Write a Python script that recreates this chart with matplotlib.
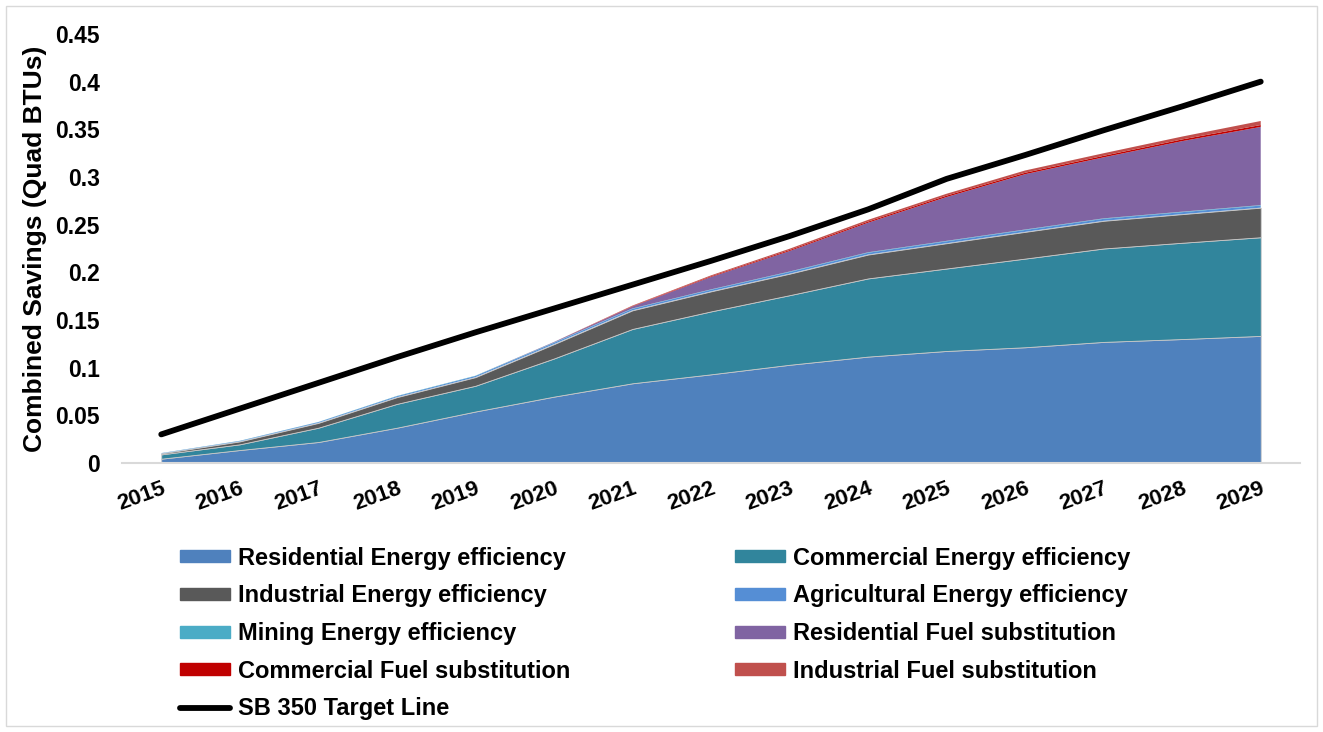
import matplotlib
matplotlib.use("Agg")
import matplotlib.pyplot as plt
from matplotlib.patches import Rectangle
from matplotlib.lines import Line2D
from matplotlib.ticker import FuncFormatter

plt.rcParams['font.family'] = ['Liberation Sans', 'DejaVu Sans']
plt.rcParams['font.weight'] = 'bold'

years = list(range(2015, 2030))

# savings by sector (Quad BTUs), stacked bottom to top
res_ee = [0.0045, 0.0136, 0.022, 0.037, 0.054, 0.0696, 0.0836, 0.093, 0.103, 0.1116, 0.1175, 0.1214, 0.127, 0.130, 0.1333]
com_ee = [0.0045, 0.006, 0.015, 0.025, 0.027, 0.040, 0.057, 0.066, 0.073, 0.082, 0.0865, 0.093, 0.098, 0.101, 0.1035]
ind_ee = [0.001, 0.003, 0.005, 0.007, 0.009, 0.015, 0.0195, 0.021, 0.0225, 0.025, 0.0265, 0.028, 0.029, 0.030, 0.031]
agr_ee = [0.0003, 0.0005, 0.0008, 0.001, 0.0012, 0.0014, 0.0016, 0.0017, 0.0018, 0.0019, 0.002, 0.002, 0.0021, 0.0021, 0.0022]
min_ee = [0.0001, 0.0002, 0.0002, 0.0003, 0.0003, 0.0004, 0.0004, 0.0004, 0.0005, 0.0005, 0.0005, 0.0005, 0.0005, 0.0005, 0.0005]
res_fs = [0, 0, 0, 0, 0, 0.0005, 0.002, 0.013, 0.0215, 0.031, 0.046, 0.058, 0.064, 0.074, 0.082]
com_fs = [0, 0, 0, 0, 0, 0, 0.0004, 0.0007, 0.001, 0.0012, 0.0014, 0.0015, 0.0016, 0.0018, 0.002]
ind_fs = [0, 0, 0, 0, 0, 0, 0.0006, 0.001, 0.0014, 0.0018, 0.002, 0.0024, 0.0027, 0.003, 0.0042]
target = [0.03, 0.057, 0.084, 0.111, 0.137, 0.162, 0.187, 0.212, 0.238, 0.266, 0.298, 0.323, 0.349, 0.374, 0.40]

names = ["Residential Energy efficiency", "Commercial Energy efficiency",
         "Industrial Energy efficiency", "Agricultural Energy efficiency",
         "Mining Energy efficiency", "Residential Fuel substitution",
         "Commercial Fuel substitution", "Industrial Fuel substitution"]
colors = ['#4F81BD', '#31859C', '#595959', '#558ED5',
          '#4BACC6', '#8064A2', '#C00000', '#C0504D']

fig = plt.figure(figsize=(13.23, 7.32), dpi=100)
ax = fig.add_axes([0.0922, 0.3675, 0.8904, 0.5861])

polys = ax.stackplot(years, res_ee, com_ee, ind_ee, agr_ee, min_ee, res_fs, com_fs, ind_fs,
                     colors=colors, linewidth=0)
for p in polys[:3]:
    p.set_edgecolor('#c9c9c9')
    p.set_linewidth(0.6)

ax.plot(years, target, color='black', linewidth=4.2, solid_capstyle='round')

ax.set_xlim(2014.5, 2029.5)
ax.set_ylim(0, 0.45)
ax.set_yticks([i * 0.05 for i in range(10)])
ax.yaxis.set_major_formatter(FuncFormatter(lambda v, p: '%g' % round(v, 2)))
ax.set_xticks(years)
ax.set_xticklabels([str(y) for y in years], rotation=20, ha='right', va='top',
                   rotation_mode='anchor')
ax.tick_params(axis='y', length=0, pad=16, labelsize=16.5)
ax.tick_params(axis='x', length=0, pad=11, labelsize=16)

for s in ['top', 'right', 'left']:
    ax.spines[s].set_visible(False)
ax.spines['bottom'].set_color('#d9d9d9')
ax.spines['bottom'].set_linewidth(1.5)

ax.set_ylabel("Combined Savings (Quad BTUs)", fontsize=19, fontweight='bold')
ax.yaxis.set_label_coords(-0.0637, 0.5)

# legend, laid out row by row like the original
h = [Rectangle((0, 0), 1, 1, color=c) for c in colors]
line_h = Line2D([0], [0], color='black', linewidth=4.2, solid_capstyle='round')
handles = [h[0], h[2], h[4], h[6], line_h, h[1], h[3], h[5], h[7]]
labels = [names[0], names[2], names[4], names[6], "SB 350 Target Line",
          names[1], names[3], names[5], names[7]]
fig.legend(handles, labels, loc='upper left', bbox_to_anchor=(0.136, 0.253),
           ncol=2, frameon=False, fontsize=17, handlelength=2.1, handleheight=0.42,
           handletextpad=0.34, labelspacing=0.62, columnspacing=7.0,
           borderpad=0, borderaxespad=0)

fig.patches.append(Rectangle((0.0045, 0.008), 0.991, 0.984, transform=fig.transFigure,
                             fill=False, edgecolor='#d9d9d9', linewidth=1))

plt.savefig("out.png", dpi=100)
